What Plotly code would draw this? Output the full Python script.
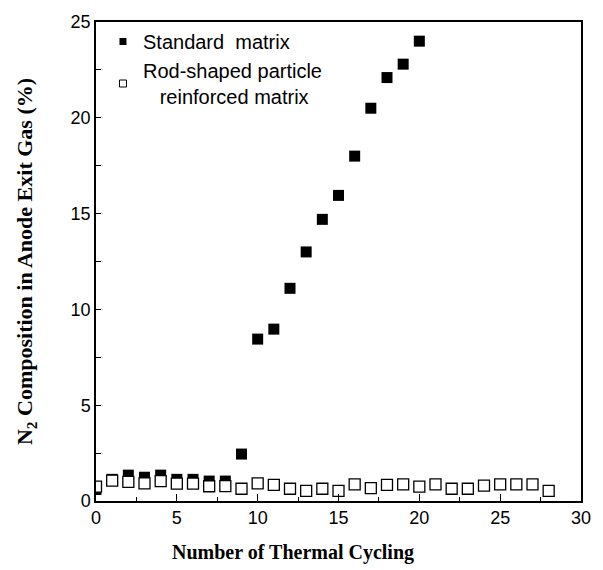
import plotly.graph_objects as go

cycles_std = [0, 1, 2, 3, 4, 5, 6, 7, 8, 9, 10, 11, 12, 13, 14, 15, 16, 17, 18, 19, 20]
n2_std = [0.6, 1.13, 1.35, 1.24, 1.35, 1.13, 1.13, 1.04, 1.04, 2.45, 8.45, 8.97, 11.1, 13.0, 14.7, 15.95, 18.0, 20.5, 22.1, 22.8, 24.0]

cycles_rod = list(range(0, 29))
n2_rod = [0.75, 1.06, 1.0, 0.92, 1.04, 0.91, 0.91, 0.77, 0.78, 0.64, 0.92, 0.84, 0.64, 0.53, 0.64, 0.53,
          0.87, 0.67, 0.84, 0.87, 0.75, 0.87, 0.64, 0.64, 0.8, 0.87, 0.87, 0.87, 0.53]

x_title = "Number of Thermal Cycling"
y_title = "N<sub>2</sub> Composition in Anode Exit Gas (%)"

fig = go.Figure()
fig.add_trace(go.Scatter(x=cycles_std, y=n2_std, mode="markers", showlegend=False,
                         marker=dict(symbol="square", size=11, color="black", line=dict(width=0))))
fig.add_trace(go.Scatter(x=cycles_rod, y=n2_rod, mode="markers", showlegend=False,
                         marker=dict(symbol="square", size=11, color="white", line=dict(width=1.3, color="black"))))
# legend entries
fig.add_trace(go.Scatter(x=[None], y=[None], mode="markers", name="Standard  matrix",
                         marker=dict(symbol="square", size=7, color="black")))
fig.add_trace(go.Scatter(x=[None], y=[None], mode="markers",
                         name="Rod-shaped particle<br>   reinforced matrix",
                         marker=dict(symbol="square", size=7, color="white", line=dict(width=1, color="black"))))

fig.add_annotation(text="<b>" + x_title + "</b>", xref="paper", yref="paper",
                   x=0.406, y=-0.108, xanchor="center", yanchor="middle", showarrow=False,
                   font=dict(family="Liberation Serif, Times New Roman", size=20, color="black"))

fig.update_layout(
    width=603, height=570,
    margin=dict(l=96, r=21, t=13, b=69),
    plot_bgcolor="white", paper_bgcolor="white",
    font=dict(family="Liberation Sans, Arial", size=18, color="black"),
    legend=dict(x=0.0144, y=1.0, xanchor="left", yanchor="top", bgcolor="rgba(0,0,0,0)",
                font=dict(size=20), tracegroupgap=0, itemwidth=30),
    xaxis=dict(range=[0, 30], dtick=5, tick0=0, showgrid=False, zeroline=False,
               showline=True, linecolor="black", linewidth=1.5, mirror=True,
               ticks="inside", ticklen=7, tickwidth=1.2, tickcolor="black",
               minor=dict(dtick=2.5, ticks="inside", ticklen=4, tickwidth=1.2, tickcolor="black"),
               tickfont=dict(size=18)),
    yaxis=dict(range=[0, 25], dtick=5, tick0=0, showgrid=False, zeroline=False,
               showline=True, linecolor="black", linewidth=1.5, mirror=True,
               ticks="inside", ticklen=5, tickwidth=1.2, tickcolor="black",
               minor=dict(dtick=2.5, ticks="inside", ticklen=5, tickwidth=1.2, tickcolor="black"),
               tickfont=dict(size=18),
               title=dict(text="<b>" + y_title + "</b>", standoff=32,
                          font=dict(family="Liberation Serif, Times New Roman", size=22))),
)

fig.write_html("out.html")
